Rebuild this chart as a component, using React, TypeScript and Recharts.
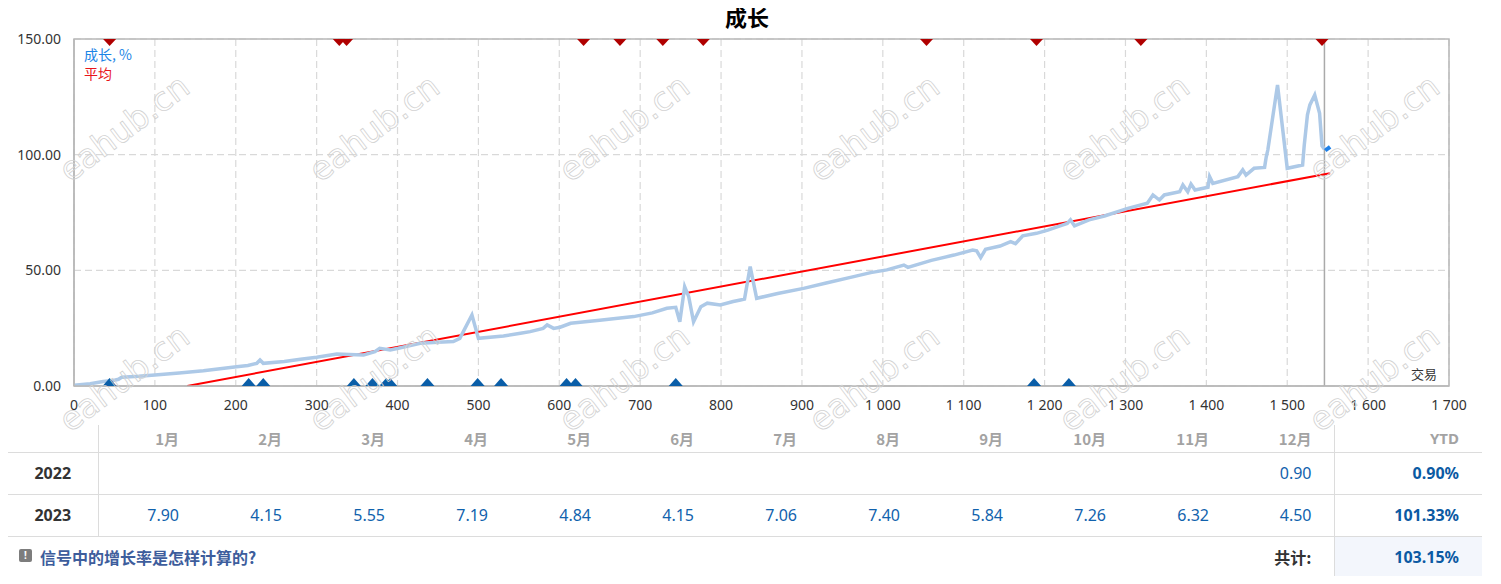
import {
  ComposedChart,
  Line,
  Scatter,
  XAxis,
  YAxis,
  CartesianGrid,
  ReferenceLine,
  ReferenceArea,
} from 'recharts';

// growth curve, [trade #, growth %]
const growthPoints: [number, number][] = [
  [0, 0.3], [20, 1.0], [36, 1.9], [50, 2.5], [55, 2.9], [59, 3.8], [80, 4.2], [100, 4.8],
  [130, 5.6], [160, 6.6], [201, 8.3], [215, 8.9], [226, 9.8], [230, 11.2], [234, 9.8],
  [260, 10.6], [280, 11.6], [300, 12.4], [325, 13.8], [340, 13.6], [358, 13.4], [372, 14.8],
  [378, 16.3], [391, 15.6], [401, 16.3], [428, 18.5], [450, 18.9], [469, 19.2], [477, 20.6],
  [492, 30.7], [500, 20.6], [531, 21.6], [552, 22.8], [564, 23.5], [580, 24.9], [585, 26.4],
  [593, 24.9], [601, 25.4], [614, 27.1], [650, 28.4], [692, 30], [715, 31.6], [733, 33.6],
  [744, 34], [749, 27.8], [755, 42.9], [760, 38.6], [766, 27.8], [775, 34.3], [783, 35.8],
  [799, 35], [815, 36.5], [824, 37.2], [829, 37.6], [836, 51.6], [844, 37.9], [870, 40],
  [902, 42.2], [930, 44.5], [964, 47.3], [985, 49], [1005, 50.2], [1026, 52.3], [1031, 51.3],
  [1060, 54.3], [1088, 56.6], [1111, 58.8], [1116, 58.4], [1121, 55.5], [1127, 59.1],
  [1145, 60.5], [1158, 62.4], [1164, 61.5], [1173, 64.9], [1190, 66], [1204, 67.4],
  [1220, 69.3], [1228, 70.3], [1232, 71.8], [1237, 69.2], [1255, 71.8], [1274, 73.5],
  [1303, 76.8], [1327, 79], [1334, 82.6], [1342, 80.4], [1348, 82.6], [1367, 84], [1371, 86.9],
  [1377, 84], [1381, 87.3], [1386, 84.7], [1402, 85.9], [1404, 90.5], [1408, 87.6],
  [1439, 90.5], [1445, 93.4], [1449, 91.2], [1459, 94.1], [1472, 94.5], [1474, 99], [1476, 102],
  [1488, 130.1], [1500, 94.1], [1519, 95.5], [1521, 104], [1525, 117.2], [1528, 121.5],
  [1534, 125.8], [1540, 117.9], [1543, 103.8], [1546, 102.3],
];
const currentPoints: [number, number][] = [[1547, 101.8], [1553, 103.4]];
const averagePoints: [number, number][] = [[140, 0], [1553, 92]];

const sellMarks = [44, 328, 337, 630, 675, 728, 778, 1054, 1190, 1319, 1543];
const buyMarks = [44, 216, 234, 346, 369, 386, 391, 437, 499, 528, 609, 620, 744, 1187, 1230];

const xTicks = [0, 100, 200, 300, 400, 500, 600, 700, 800, 900, 1000, 1100, 1200, 1300, 1400, 1500, 1600, 1700];
const yTicks = [0, 50, 100, 150];
const lastTrade = 1546;

const months = ['1月', '2月', '3月', '4月', '5月', '6月', '7月', '8月', '9月', '10月', '11月', '12月'];
const values2022 = ['', '', '', '', '', '', '', '', '', '', '', '0.90'];
const values2023 = ['7.90', '4.15', '5.55', '7.19', '4.84', '4.15', '7.06', '7.40', '5.84', '7.26', '6.32', '4.50'];
const ytd2022 = '0.90%';
const ytd2023 = '101.33%';
const total = '103.15%';

const toRows = (pts: [number, number][]) => pts.map(([x, y]) => ({ x, y }));

const fmtX = (v: number) =>
  v >= 1000 ? `${Math.floor(v / 1000)} ${String(v % 1000).padStart(3, '0')}` : String(v);

const SANS = '"Noto Sans", "Noto Sans CJK SC", sans-serif';
const CJK = '"Noto Sans CJK SC", "Noto Sans", sans-serif';

// eslint-disable-next-line @typescript-eslint/no-explicit-any
const DownTri = (props: any) => {
  const { cx, cy } = props;
  return <path d={`M${cx - 6.5},${cy} L${cx + 6.5},${cy} L${cx},${cy + 7} Z`} fill="#b00000" />;
};
// eslint-disable-next-line @typescript-eslint/no-explicit-any
const UpTri = (props: any) => {
  const { cx, cy } = props;
  return <path d={`M${cx - 7},${cy} L${cx + 7},${cy} L${cx},${cy - 8} Z`} fill="#0a5ea8" />;
};

const cellBase: React.CSSProperties = {
  textAlign: 'right',
  paddingRight: 22,
  fontFamily: SANS,
  fontSize: 16,
  color: '#1162ad',
  whiteSpace: 'nowrap',
};
const line = '1px solid #dcdcdc';

function Watermarks() {
  const cols = [124, 374, 624, 874, 1124, 1374];
  const rows = [128, 378];
  return (
    <svg
      width={1501}
      height={584}
      style={{ position: 'absolute', left: -8, top: -8, pointerEvents: 'none' }}
    >
      {rows.map(r =>
        cols.map(c => (
          <text
            key={`${r}-${c}`}
            x={c}
            y={r}
            textAnchor="middle"
            dominantBaseline="central"
            transform={`rotate(-37 ${c} ${r})`}
            fontFamily='"DejaVu Sans", sans-serif'
            fontSize={33}
            fill="none"
            stroke="#d2d2d2"
            strokeWidth={0.8}
          >
            eahub.cn
          </text>
        ))
      )}
    </svg>
  );
}

export default function App() {
  return (
    <div style={{ position: 'relative', width: 1485, height: 568 }}>
      <div
        style={{
          position: 'absolute',
          left: 0,
          width: 1478,
          top: -6,
          textAlign: 'center',
          fontFamily: CJK,
          fontWeight: 'bold',
          fontSize: 22,
          lineHeight: '28px',
          color: '#000',
        }}
      >
        成长
      </div>

      <div style={{ position: 'absolute', left: 0, top: 0 }}>
        <ComposedChart width={1460} height={415} margin={{ top: 31, right: 19, left: 0, bottom: 7 }}>
          <CartesianGrid stroke="#d9d9d9" strokeDasharray="7 4" strokeWidth={1.2} />
          <XAxis
            type="number"
            dataKey="x"
            domain={[0, 1700]}
            ticks={xTicks}
            interval={0}
            allowDataOverflow
            height={30}
            tickLine={false}
            axisLine={{ stroke: '#b8b8b8', strokeWidth: 1.5 }}
            tick={{ fontSize: 14, fill: '#333', fontFamily: SANS }}
            tickMargin={8}
            tickFormatter={fmtX}
          />
          <YAxis
            type="number"
            domain={[0, 150]}
            ticks={yTicks}
            allowDataOverflow
            width={66}
            tickLine={false}
            axisLine={{ stroke: '#b8b8b8', strokeWidth: 1.5 }}
            tick={{ fontSize: 14, fill: '#333', fontFamily: SANS }}
            tickMargin={7}
            tickFormatter={(v: number) => v.toFixed(2)}
          />
          <ReferenceArea x1={0} x2={1700} y1={0} y2={150} fill="none" stroke="#b8b8b8" strokeWidth={1.5} />
          <ReferenceLine x={lastTrade} stroke="#aaaaaa" strokeWidth={1.5} />
          <Line
            data={toRows(averagePoints)}
            dataKey="y"
            type="linear"
            stroke="#ff0000"
            strokeWidth={2}
            dot={false}
            isAnimationActive={false}
          />
          <Line
            data={toRows(growthPoints)}
            dataKey="y"
            type="linear"
            stroke="#adc9e7"
            strokeWidth={3.5}
            strokeLinejoin="miter"
            dot={false}
            isAnimationActive={false}
          />
          <Line
            data={toRows(currentPoints)}
            dataKey="y"
            type="linear"
            stroke="#1e80e8"
            strokeWidth={4}
            dot={false}
            isAnimationActive={false}
          />
          <Scatter
            data={sellMarks.map(x => ({ x, y: 150 }))}
            dataKey="y"
            shape={DownTri}
            isAnimationActive={false}
          />
          <Scatter
            data={buyMarks.map(x => ({ x, y: 0 }))}
            dataKey="y"
            shape={UpTri}
            isAnimationActive={false}
          />
        </ComposedChart>
      </div>

      {/* legend inside plot */}
      <div style={{ position: 'absolute', left: 76, top: 37, fontFamily: CJK, fontSize: 14, lineHeight: '18px', color: '#1b85e6' }}>
        成长, %
      </div>
      <div style={{ position: 'absolute', left: 76, top: 56, fontFamily: CJK, fontSize: 14, lineHeight: '18px', color: '#e8141a' }}>
        平均
      </div>
      <div style={{ position: 'absolute', left: 1403, top: 357, fontFamily: CJK, fontSize: 13, lineHeight: '18px', color: '#333' }}>
        交易
      </div>

      <table
        style={{
          position: 'absolute',
          left: 0,
          top: 417,
          width: 1474,
          borderCollapse: 'collapse',
          tableLayout: 'fixed',
        }}
      >
        <colgroup>
          <col style={{ width: 90 }} />
          {months.map(m => (
            <col key={m} style={{ width: 103 }} />
          ))}
          <col style={{ width: 148 }} />
        </colgroup>
        <tbody>
          <tr style={{ height: 27 }}>
            <td style={{ borderRight: line, borderBottom: line, padding: 0 }} />
            {months.map(m => (
              <td
                key={m}
                style={{ ...cellBase, color: '#a3a3a3', fontFamily: CJK, fontWeight: 'bold', fontSize: 15, borderBottom: line, padding: '0 22px 0 0' }}
              >
                {m}
              </td>
            ))}
            <td style={{ ...cellBase, color: '#a3a3a3', fontWeight: 'bold', fontSize: 15, borderBottom: line, borderLeft: line, padding: '0 23px 0 0' }}>
              YTD
            </td>
          </tr>
          {[
            { year: '2022', vals: values2022, ytd: ytd2022 },
            { year: '2023', vals: values2023, ytd: ytd2023 },
          ].map(r => (
            <tr key={r.year} style={{ height: 42 }}>
              <td
                style={{
                  textAlign: 'center',
                  fontFamily: SANS,
                  fontWeight: 'bold',
                  fontSize: 16,
                  color: '#333',
                  borderRight: line,
                  borderBottom: line,
                  padding: 0,
                }}
              >
                {r.year}
              </td>
              {r.vals.map((v, i) => (
                <td key={i} style={{ ...cellBase, borderBottom: line, padding: '0 22px 0 0' }}>
                  {v}
                </td>
              ))}
              <td style={{ ...cellBase, fontWeight: 'bold', color: '#0b5aa3', borderBottom: line, borderLeft: line, padding: '0 23px 0 0' }}>
                {r.ytd}
              </td>
            </tr>
          ))}
          <tr style={{ height: 41 }}>
            <td colSpan={12} style={{ padding: '0 0 0 11px', whiteSpace: 'nowrap' }}>
              <span
                style={{
                  display: 'inline-block',
                  width: 13,
                  height: 13,
                  background: '#7d7d7d',
                  borderRadius: 2,
                  color: '#fff',
                  fontSize: 10,
                  fontWeight: 'bold',
                  lineHeight: '13px',
                  textAlign: 'center',
                  fontFamily: SANS,
                  verticalAlign: 'middle',
                  marginRight: 8,
                  position: 'relative',
                  top: -1,
                }}
              >
                !
              </span>
              <span style={{ fontFamily: CJK, fontSize: 16, fontWeight: 'bold', color: '#3d5d9c', verticalAlign: 'middle' }}>
                信号中的增长率是怎样计算的?
              </span>
            </td>
            <td style={{ ...cellBase, fontFamily: CJK, fontWeight: 'bold', color: '#333', padding: '0 22px 0 0' }}>共计:</td>
            <td style={{ ...cellBase, fontWeight: 'bold', color: '#0b5aa3', background: '#f3f6fc', borderLeft: line, padding: '0 23px 0 0' }}>
              {total}
            </td>
          </tr>
        </tbody>
      </table>

      <Watermarks />
    </div>
  );
}
